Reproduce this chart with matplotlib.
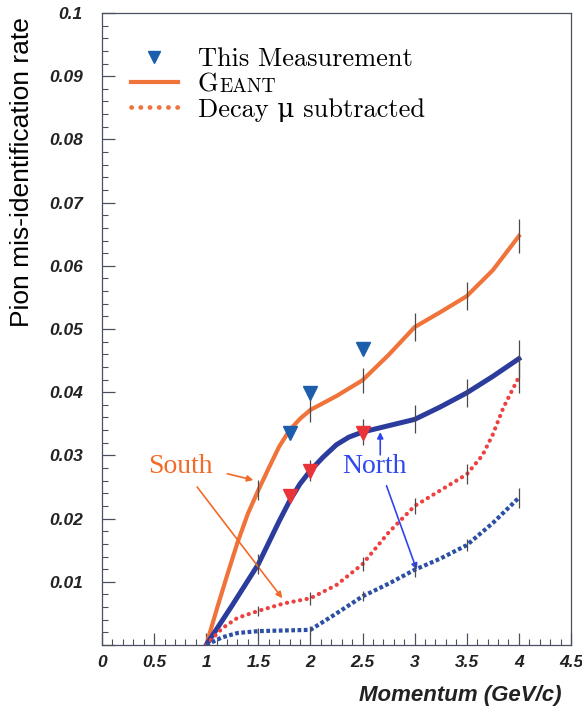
import numpy as np
import matplotlib
matplotlib.use("Agg")
import matplotlib.pyplot as plt
from matplotlib.ticker import MultipleLocator, FuncFormatter
from matplotlib.lines import Line2D

# GEANT, South (solid orange)
geant_s_x = [1.0, 1.1, 1.2, 1.3, 1.4, 1.5, 1.6, 1.7, 1.8, 1.9, 2.0, 2.25, 2.5, 2.75, 3.0, 3.25, 3.5, 3.75, 4.0]
geant_s_y = [0.0, 0.0056, 0.0110, 0.0162, 0.0208, 0.0245, 0.0280, 0.0314, 0.0340, 0.0358, 0.0372,
             0.0394, 0.0419, 0.0459, 0.0503, 0.0527, 0.0552, 0.0593, 0.0647]
# GEANT, North (solid blue)
geant_n_x = [1.0, 1.25, 1.5, 1.6, 1.7, 1.8, 1.9, 2.0, 2.12, 2.25, 2.37, 2.5, 2.75, 3.0, 3.25, 3.5, 3.75, 4.0]
geant_n_y = [0.0, 0.0063, 0.0128, 0.0162, 0.0196, 0.0228, 0.0255, 0.0276, 0.0297, 0.0317, 0.0329,
             0.0337, 0.0347, 0.0357, 0.0377, 0.0399, 0.0425, 0.0453]
# decay mu subtracted, South (dotted red)
sub_s_x = [1.0, 1.15, 1.3, 1.5, 1.75, 2.0, 2.25, 2.5, 2.75, 3.0, 3.25, 3.5, 3.65, 3.75, 3.85, 4.0]
sub_s_y = [0.0, 0.0026, 0.0043, 0.0054, 0.0066, 0.0074, 0.0095, 0.0128, 0.0178, 0.0220, 0.0245,
           0.0270, 0.0300, 0.0333, 0.0375, 0.0424]
# decay mu subtracted, North (dotted blue)
sub_n_x = [1.0, 1.15, 1.3, 1.5, 2.0, 2.25, 2.5, 2.75, 3.0, 3.25, 3.5, 3.75, 4.0]
sub_n_y = [0.0, 0.0012, 0.0019, 0.0022, 0.0024, 0.0050, 0.0077, 0.0097, 0.0119, 0.0137, 0.0158,
           0.0193, 0.0233]

# error bars at these momenta
err_x = [1.5, 2.0, 2.5, 3.0, 3.5, 4.0]
geant_s_err = [0.0016, 0.0019, 0.0020, 0.0022, 0.0022, 0.0027]
geant_n_err = [0.0016, 0.0016, 0.0020, 0.0022, 0.0022, 0.0030]
sub_s_err = [0.0008, 0.0010, 0.0011, 0.0013, 0.0016, 0.0025]
sub_n_err = [0.0005, 0.0006, 0.0008, 0.0011, 0.0010, 0.0016]

# measurements
meas_x = [1.8, 2.0, 2.5]
meas_s = [0.0335, 0.0399, 0.0468]
meas_n = [0.0235, 0.0275, 0.0336]

ORANGE = '#f0733a'
NAVY = '#2b3c9c'
RED_DOT = '#ee4040'
BLUE_DOT = '#2c4fa6'
TRI_BLUE = '#1c5eab'
TRI_RED = '#e83438'

plt.rcParams['font.family'] = ['Liberation Sans', 'DejaVu Sans']

fig = plt.figure(figsize=(5.82, 7.11), dpi=100)
ax = fig.add_axes([0.1753, 0.0928, 0.8057, 0.8889])

ax.plot(geant_s_x, geant_s_y, color=ORANGE, lw=3.0, solid_joinstyle='round', zorder=3)
ax.plot(geant_n_x, geant_n_y, color=NAVY, lw=3.6, solid_joinstyle='round', zorder=3)
ax.plot(sub_s_x, sub_s_y, color=RED_DOT, lw=3.0, linestyle=(0, (0.05, 1.55)),
        dash_capstyle='round', zorder=3)
ax.plot(sub_n_x, sub_n_y, color=BLUE_DOT, lw=3.0, linestyle=(0, (0.9, 0.6)),
        dash_capstyle='butt', zorder=3)

for cx, cy, ce in [(geant_s_x, geant_s_y, geant_s_err), (geant_n_x, geant_n_y, geant_n_err),
                   (sub_s_x, sub_s_y, sub_s_err), (sub_n_x, sub_n_y, sub_n_err)]:
    cx = np.array(cx)
    cy = np.array(cy)
    yy = cy[np.isin(cx, err_x)]
    ax.errorbar(err_x, yy, yerr=ce, fmt='none', ecolor='#4a4a4a', elinewidth=0.9,
                capsize=0, zorder=4)

ax.plot(meas_x, meas_s, 'v', color=TRI_BLUE, ms=10, zorder=5)
ax.plot(meas_x, meas_n, 'v', color=TRI_RED, ms=10, zorder=5)

# South / North annotations
ax.text(0.75, 0.0282, 'South', color='#f26a28', fontsize=20, family='Liberation Serif',
        ha='center', va='center')
ax.annotate('', xy=(1.452, 0.0261), xytext=(1.202, 0.0271),
            arrowprops=dict(arrowstyle='-|>', color='#f26a28', lw=1.2, mutation_scale=9,
                            shrinkA=0, shrinkB=0))
ax.annotate('', xy=(1.73, 0.0074), xytext=(0.913, 0.0250),
            arrowprops=dict(arrowstyle='-|>', color='#f26a28', lw=1.2, mutation_scale=9,
                            shrinkA=0, shrinkB=0))
ax.text(2.615, 0.0282, 'North', color='#3048f0', fontsize=20, family='Liberation Serif',
        ha='center', va='center')
ax.annotate('', xy=(2.67, 0.0337), xytext=(2.67, 0.0301),
            arrowprops=dict(arrowstyle='-|>', color='#2f46ee', lw=1.2, mutation_scale=9,
                            shrinkA=0, shrinkB=0))
ax.annotate('', xy=(3.02, 0.0119), xytext=(2.73, 0.0252),
            arrowprops=dict(arrowstyle='-|>', color='#2f46ee', lw=1.2, mutation_scale=9,
                            shrinkA=0, shrinkB=0))

# legend
handles = [Line2D([], [], ls='none', marker='v', color=TRI_BLUE, ms=9),
           Line2D([], [], color=ORANGE, lw=3.0),
           Line2D([], [], color=ORANGE, lw=3.4, linestyle=(0, (0.05, 1.9)),
                  dash_capstyle='round')]
leg = ax.legend(handles, ['This Measurement', 'G', 'Decay \u03bc subtracted'],
                loc='upper left', bbox_to_anchor=(0.061, 0.946), frameon=False,
                prop={'family': ['cmr10', 'DejaVu Serif'], 'size': 19},
                handlelength=1.8, handletextpad=0.75, labelspacing=0.06, borderpad=0,
                borderaxespad=0)
g_text = leg.get_texts()[1]
ax.annotate('EANT', xy=(1, 0), xycoords=g_text, xytext=(0.5, 0), textcoords='offset points',
            ha='left', va='bottom', fontsize=14, family='cmr10', color='black', zorder=10)

ax.set_xlim(0, 4.5)
ax.set_ylim(0, 0.1)
ax.xaxis.set_major_locator(MultipleLocator(0.5))
ax.xaxis.set_minor_locator(MultipleLocator(0.1))
ax.yaxis.set_major_locator(MultipleLocator(0.01))
ax.yaxis.set_minor_locator(MultipleLocator(0.002))
ax.xaxis.set_major_formatter(FuncFormatter(lambda v, p: f'{v:g}'))
ax.yaxis.set_major_formatter(FuncFormatter(lambda v, p: '' if abs(v) < 1e-9 else f'{v:g}'))
ax.tick_params(which='both', direction='in', color='#4a5060', top=False, right=False)
ax.tick_params(which='major', length=9, width=0.9)
ax.tick_params(which='minor', length=4.5, width=0.8)
ax.tick_params(axis='y', pad=14)
ax.tick_params(axis='x', pad=7)
for lab in ax.get_xticklabels() + ax.get_yticklabels():
    lab.set_fontsize(12.5)
    lab.set_fontweight('bold')
    lab.set_fontstyle('italic')
    lab.set_color('#222222')
for sp in ax.spines.values():
    sp.set_color('#4a5060')
    sp.set_linewidth(0.9)

ax.set_xlabel('Momentum (GeV/c)', fontsize=16, fontweight='bold', fontstyle='italic',
              color='#222222', ha='right', va='center')
ax.xaxis.set_label_coords(0.979, -0.08)
fig.text(22 / 582, 1 - 172 / 711, 'Pion mis-identification rate', rotation=90,
         fontsize=19, ha='center', va='center', color='black')

fig.savefig('out.png', dpi=100)
